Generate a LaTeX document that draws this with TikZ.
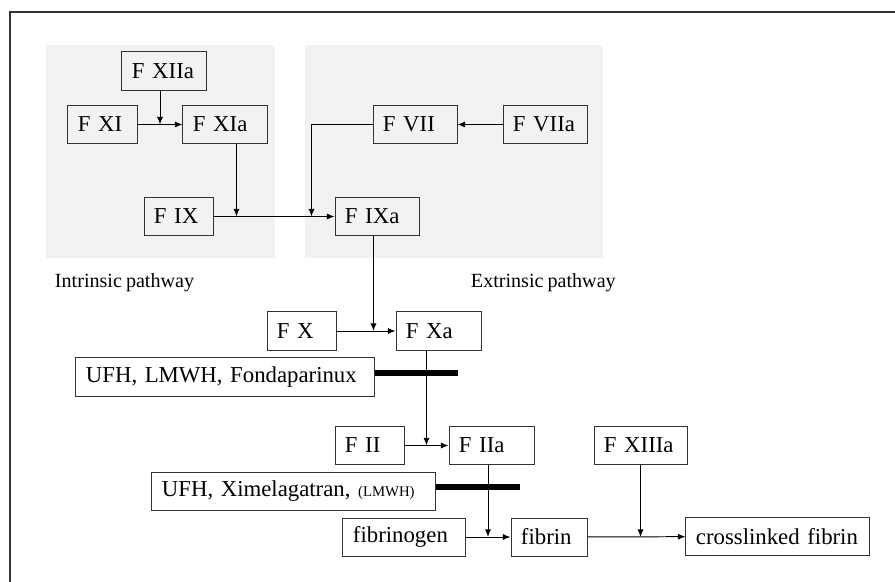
\documentclass[tikz,border=0pt]{standalone}
\usepackage{fontspec}
\setmainfont[WordSpace=0.8]{Liberation Serif}
\usetikzlibrary{arrows.meta, positioning, calc}

\begin{document}
\begin{tikzpicture}[
        x=0.025cm, y=-0.025cm,
        box/.style={draw=black!80, line width=0.7pt, minimum height=0.95cm, inner xsep=0.25cm, text width=#1, align=left, font=\fontsize{16.2}{19}\selectfont},
        arrow/.style={-{Latex[length=5.5pt, width=4.4pt]}, line width=0.7pt},
        bar/.style={line width=3.6pt},
        panel/.style={fill=gray!10},
        caption/.style={anchor=west, font=\fontsize{14.3}{17}\selectfont}
    ]
        \useasboundingbox (0,0) rectangle (895,582);

        % Frame
        \draw[black!80, line width=0.8pt] (895,12) -- (10,12) -- (10,582);

        % Pathway panels
        \fill[panel] (46,45) rectangle (275,258);
        \fill[panel] (305,45) rectangle (603,258);
        \node[caption] (intr) at (50,283) {Intrinsic pathway};
        \node[caption] (extr) at (466,283) {Extrinsic pathway};

        % Intrinsic pathway
        \node[box=1.6cm] (fxiia) at (164,71) {F XIIa};
        \node[box=1.225cm] (fxi) at (102.5,124.5) {F XI};
        \node[box=1.6cm] (fxia) at (225,124.5) {F XIa};
        \node[box=1.225cm] (fix) at (178.5,216.5) {F IX};

        % Extrinsic pathway
        \node[box=1.6cm] (fvii) at (415,124.5) {F VII};
        \node[box=1.6cm] (fviia) at (545,124.5) {F VIIa};
        \node[box=1.6cm] (fixa) at (377,216.5) {F IXa};

        % Common pathway
        \node[box=1.225cm] (fx) at (301.5,331) {F X};
        \node[box=1.625cm] (fxa) at (438.5,331) {F Xa};
        \node[box=6.95cm] (drug1) at (225,377) {UFH, LMWH, Fondaparinux};
        \node[box=1.225cm] (fii) at (369.5,445.5) {F II};
        \node[box=1.625cm] (fiia) at (491.5,445.5) {F IIa};
        \node[box=1.825cm] (fxiiia) at (640.5,445.5) {F XIIIa};
        \node[box=6.575cm] (drug2) at (293.5,491) {UFH, Ximelagatran, {\fontsize{10.5}{12}\selectfont(LMWH)}};
        \node[box=2.55cm] (fbg) at (404,537) {fibrinogen};
        \node[box=1.4cm] (fib) at (549,537) {fibrin};
        \node[box=4.075cm] (xfib) at (777.5,536.5) {crosslinked fibrin};

        % Junctions
        \coordinate (j1) at ($(fxi.east)!0.5!(fxia.west)$);
        \path (fix.east) ++(23,0) coordinate (j2);
        \path (fixa.west) ++(-23,0) coordinate (j3);
        \path (fxa.west) ++(-22,0) coordinate (j4);
        \coordinate (j5) at ($(fii.east)!0.5!(fiia.west)$);
        \coordinate (j6) at ($(fbg.east)!0.5!(fib.west)$);

        % Arrows
        \draw[arrow] (fxi) -- (fxia);
        \draw[arrow] (j1 |- fxiia.south) -- (j1);
        \draw[arrow] (fix) -- (fixa);
        \draw[arrow] (j2 |- fxia.south) -- (j2);
        \draw[arrow] (fviia) -- (fvii);
        \draw[arrow] (fvii.west) -| (j3);
        \draw[arrow] (fx) -- (fxa);
        \draw[arrow] (j4 |- fixa.south) -- (j4);
        \draw[arrow] (fii) -- (fiia);
        \draw[arrow] (j5 |- fxa.south) -- (j5);
        \draw[arrow] (fbg) -- (fib);
        \draw[arrow] (j6 |- fiia.south) -- (j6);
        \draw[arrow] (fib) -- (xfib);
        \draw[arrow] (fxiiia.south) -- (fxiiia.south |- fib.east);

        % Inhibitors
        \draw[bar] ([yshift=0.1cm]drug1.east) -- ++(83,0);
        \draw[bar] ([yshift=0.1cm]drug2.east) -- ++(84,0);
    \end{tikzpicture}
\end{document}
